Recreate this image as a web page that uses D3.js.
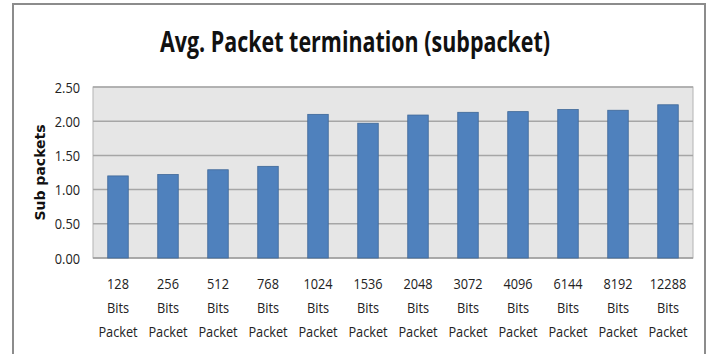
<!DOCTYPE html>
<html>
<head>
<meta charset="utf-8">
<script src="https://cdn.jsdelivr.net/npm/d3@7"></script>
<style>
  html, body { margin: 0; padding: 0; background: #fff; }
  svg { display: block; }
</style>
</head>
<body>
<svg id="chart" width="710" height="354"></svg>
<script>
// Packet sizes (bits) and average subpackets needed for termination
const packetSizes = ["128", "256", "512", "768", "1024", "1536", "2048", "3072", "4096", "6144", "8192", "12288"];
const avgSubpackets = [1.20, 1.22, 1.29, 1.34, 2.10, 1.97, 2.09, 2.13, 2.14, 2.17, 2.16, 2.24];
const yTicks = [0, 0.5, 1.0, 1.5, 2.0, 2.5];

const titleText = "Avg. Packet termination (subpacket)";
const yTitle = "Sub packets";

const svg = d3.select("#chart");
const W = 710, H = 354;
const plot = { left: 93, right: 693, top: 87, bottom: 258 };
const narrow = 0.85; // horizontal squeeze for a condensed label face

// outer chart frame
svg.append("rect")
  .attr("x", 13).attr("y", 4)
  .attr("width", 692).attr("height", H + 10)
  .attr("fill", "#fff")
  .attr("stroke", "#8c8c8c")
  .attr("stroke-width", 2);

svg.append("text")
  .attr("x", 355).attr("y", 52)
  .attr("text-anchor", "middle")
  .attr("font-family", "'Open Sans', sans-serif")
  .attr("font-weight", "bold")
  .attr("font-size", 28)
  .attr("textLength", 390)
  .attr("lengthAdjust", "spacingAndGlyphs")
  .attr("fill", "#111")
  .text(titleText);

const x = d3.scaleBand()
  .domain(packetSizes)
  .range([plot.left, plot.right])
  .paddingInner(0.59)
  .paddingOuter(0.295);

const y = d3.scaleLinear()
  .domain([0, 2.5])
  .range([plot.bottom, plot.top]);

// plot background
svg.append("rect")
  .attr("x", plot.left).attr("y", plot.top)
  .attr("width", plot.right - plot.left)
  .attr("height", plot.bottom - plot.top)
  .attr("fill", "#e6e6e6")
  .attr("stroke", "#b4b4b4")
  .attr("stroke-width", 1);

// gridlines
svg.append("g")
  .selectAll("line")
  .data(yTicks)
  .join("line")
  .attr("x1", plot.left).attr("x2", plot.right)
  .attr("y1", d => y(d)).attr("y2", d => y(d))
  .attr("stroke", d => d === 0 ? "#9a9a9a" : "#a6a6a6")
  .attr("stroke-width", 1.5);

// y axis labels
const yAxis = d3.axisLeft(y)
  .tickValues(yTicks)
  .tickFormat(d3.format(".2f"))
  .tickSize(0)
  .tickPadding(0);

const yg = svg.append("g")
  .attr("transform", `translate(${plot.left},0)`)
  .call(yAxis);
yg.select(".domain").remove();
yg.selectAll(".tick").each(function () {
  const tr = d3.select(this).attr("transform");
  d3.select(this).attr("transform", `${tr} translate(-13,0) scale(${narrow},1)`);
});
yg.selectAll("text")
  .attr("x", 0)
  .attr("dy", "0.34em")
  .attr("font-family", "'Open Sans', sans-serif")
  .attr("font-size", 15)
  .attr("fill", "#222");

// bars
svg.append("g")
  .selectAll("rect")
  .data(packetSizes)
  .join("rect")
  .attr("x", d => x(d))
  .attr("y", (d, i) => y(avgSubpackets[i]))
  .attr("width", x.bandwidth())
  .attr("height", (d, i) => y(0) - y(avgSubpackets[i]))
  .attr("fill", "#4f81bd")
  .attr("stroke", "#3d6797")
  .attr("stroke-width", 0.8);

// x axis labels (three lines each)
const xg = svg.append("g");
packetSizes.forEach(d => {
  const cx = x(d) + x.bandwidth() / 2;
  const t = xg.append("text")
    .attr("transform", `translate(${cx},0) scale(${narrow},1)`)
    .attr("text-anchor", "middle")
    .attr("font-family", "'Open Sans', sans-serif")
    .attr("font-size", 15)
    .attr("fill", "#222");
  [d, "Bits", "Packet"].forEach((line, k) => {
    t.append("tspan")
      .attr("x", 0)
      .attr("y", 289 + k * 24)
      .text(line);
  });
});

// y axis title
svg.append("text")
  .attr("transform", `translate(45,${(plot.top + plot.bottom) / 2}) rotate(-90)`)
  .attr("text-anchor", "middle")
  .attr("font-family", "'DejaVu Sans', sans-serif")
  .attr("font-weight", "bold")
  .attr("font-size", 14)
  .attr("fill", "#111")
  .text(yTitle);
</script>
</body>
</html>
